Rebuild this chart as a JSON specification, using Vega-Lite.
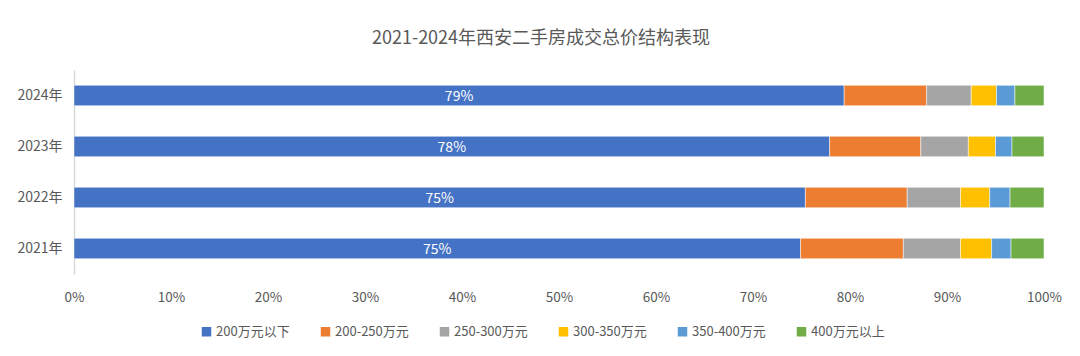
{
  "$schema": "https://vega.github.io/schema/vega-lite/v6.json",
  "width": 970,
  "height": 204,
  "autosize": {"type": "none"},
  "padding": {"left": 74, "top": 70, "right": 36, "bottom": 82},
  "background": "white",
  "config": {
    "view": {"stroke": null},
    "font": "Noto Sans CJK SC"
  },
  "title": {
    "text": "2021-2024年西安二手房成交总价结构表现",
    "fontSize": 18,
    "fontWeight": "normal",
    "color": "#595959",
    "font": "Noto Sans CJK SC",
    "anchor": "middle",
    "offset": 22,
    "dx": -18
  },
  "data": {
    "values": [
      {"year": "2024年", "cat": "200万元以下", "k": 1, "v": 0.794, "label": "79%"},
      {"year": "2024年", "cat": "200-250万元", "k": 2, "v": 0.085},
      {"year": "2024年", "cat": "250-300万元", "k": 3, "v": 0.046},
      {"year": "2024年", "cat": "300-350万元", "k": 4, "v": 0.026},
      {"year": "2024年", "cat": "350-400万元", "k": 5, "v": 0.019},
      {"year": "2024年", "cat": "400万元以上", "k": 6, "v": 0.030},
      {"year": "2023年", "cat": "200万元以下", "k": 1, "v": 0.779, "label": "78%"},
      {"year": "2023年", "cat": "200-250万元", "k": 2, "v": 0.094},
      {"year": "2023年", "cat": "250-300万元", "k": 3, "v": 0.049},
      {"year": "2023年", "cat": "300-350万元", "k": 4, "v": 0.028},
      {"year": "2023年", "cat": "350-400万元", "k": 5, "v": 0.017},
      {"year": "2023年", "cat": "400万元以上", "k": 6, "v": 0.033},
      {"year": "2022年", "cat": "200万元以下", "k": 1, "v": 0.754, "label": "75%"},
      {"year": "2022年", "cat": "200-250万元", "k": 2, "v": 0.105},
      {"year": "2022年", "cat": "250-300万元", "k": 3, "v": 0.055},
      {"year": "2022年", "cat": "300-350万元", "k": 4, "v": 0.030},
      {"year": "2022年", "cat": "350-400万元", "k": 5, "v": 0.021},
      {"year": "2022年", "cat": "400万元以上", "k": 6, "v": 0.035},
      {"year": "2021年", "cat": "200万元以下", "k": 1, "v": 0.749, "label": "75%"},
      {"year": "2021年", "cat": "200-250万元", "k": 2, "v": 0.106},
      {"year": "2021年", "cat": "250-300万元", "k": 3, "v": 0.059},
      {"year": "2021年", "cat": "300-350万元", "k": 4, "v": 0.032},
      {"year": "2021年", "cat": "350-400万元", "k": 5, "v": 0.020},
      {"year": "2021年", "cat": "400万元以上", "k": 6, "v": 0.034}
    ]
  },
  "encoding": {
    "y": {
      "field": "year",
      "type": "nominal",
      "sort": ["2024年", "2023年", "2022年", "2021年"],
      "scale": {"paddingInner": 0.6, "paddingOuter": 0.3},
      "axis": {
        "title": null,
        "ticks": false,
        "domainColor": "#D9D9D9",
        "domainWidth": 1.5,
        "labelColor": "#595959",
        "labelFontSize": 14,
        "labelPadding": 12,
        "labelFont": "Noto Sans CJK SC"
      }
    }
  },
  "resolve": {"scale": {"x": "independent"}, "axis": {"x": "independent"}},
  "layer": [
    {
      "mark": {"type": "bar", "stroke": "white", "strokeWidth": 0.5},
      "encoding": {
        "x": {
          "field": "v",
          "type": "quantitative",
          "stack": "zero",
          "scale": {"domain": [0, 1]},
          "axis": {
            "title": null,
            "format": "%",
            "values": [0, 0.1, 0.2, 0.3, 0.4, 0.5, 0.6, 0.7, 0.8, 0.9, 1],
            "grid": false,
            "domain": false,
            "ticks": false,
            "labelFlush": false,
            "labelColor": "#595959",
            "labelFontSize": 13.5,
            "labelPadding": 16,
            "labelFont": "Noto Sans CJK SC"
          }
        },
        "order": {"field": "k", "type": "quantitative"},
        "color": {
          "field": "cat",
          "type": "nominal",
          "scale": {
            "domain": ["200万元以下", "200-250万元", "250-300万元", "300-350万元", "350-400万元", "400万元以上"],
            "range": ["#4472C4", "#ED7D31", "#A5A5A5", "#FFC000", "#5B9BD5", "#70AD47"]
          },
          "legend": {
            "title": null,
            "orient": "none",
            "legendX": 126,
            "legendY": 255,
            "direction": "horizontal",
            "columns": 6,
            "gridAlign": "all",
            "columnPadding": 29,
            "symbolType": "square",
            "symbolSize": 90,
            "symbolStrokeWidth": 0,
            "symbolOffset": 0,
            "labelOffset": 3,
            "labelFontSize": 13,
            "labelColor": "#595959",
            "labelFont": "Noto Sans CJK SC"
          }
        }
      }
    },
    {
      "transform": [{"filter": "datum.k == 1"}],
      "mark": {"type": "text", "color": "white", "fontSize": 14, "font": "Noto Sans CJK SC", "baseline": "middle", "align": "center", "dy": 1},
      "encoding": {
        "x": {"field": "v", "type": "quantitative", "stack": null, "scale": {"domain": [0, 2]}, "axis": null},
        "text": {"field": "label", "type": "nominal"}
      }
    }
  ]
}
